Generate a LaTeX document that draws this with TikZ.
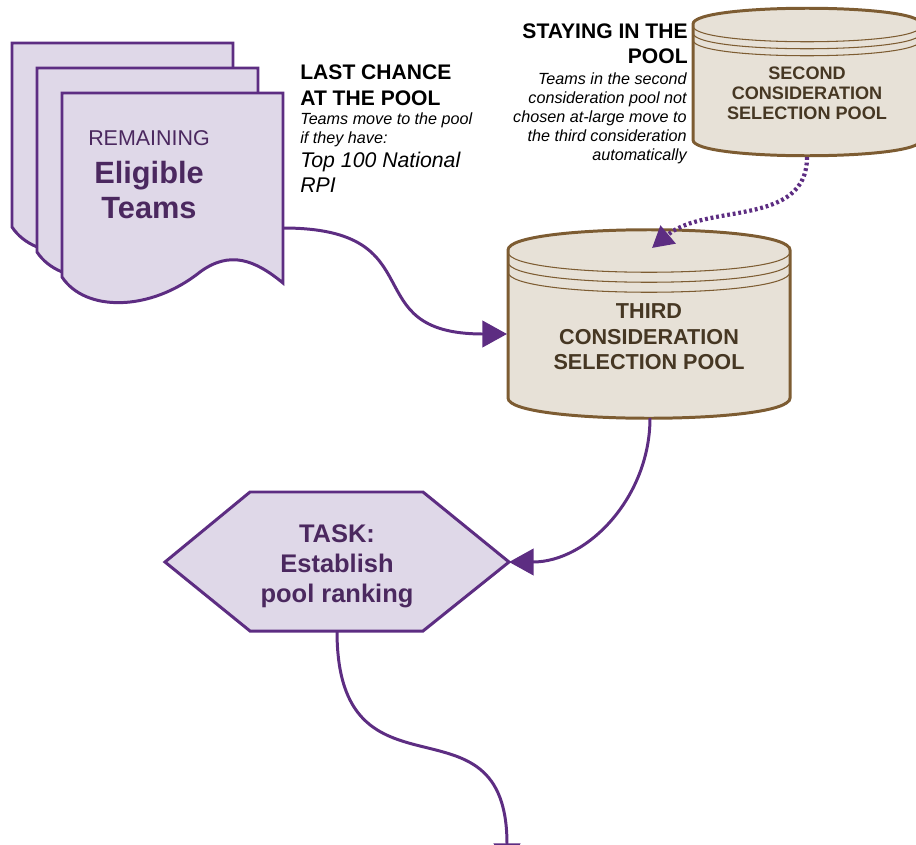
\documentclass[tikz,border=0pt]{standalone}
\usepackage{fontspec}
\setmainfont{Liberation Sans}
\usetikzlibrary{arrows.meta}
\definecolor{teamline}{RGB}{93,45,130}
\definecolor{teamfill}{RGB}{223,216,232}
\definecolor{teamtext}{RGB}{75,40,95}
\definecolor{poolline}{RGB}{125,92,50}
\definecolor{poolfill}{RGB}{231,225,215}
\definecolor{pooltext}{RGB}{70,55,35}
\tikzset{
  page/.style={draw=teamline, fill=teamfill, line width=1.7pt},
  can/.style={draw=poolline, fill=poolfill, line width=1.7pt},
  canring/.style={draw=poolline, line width=0.6pt},
  flow/.style={draw=teamline, line width=1.7pt, -{Triangle[length=14pt,width=15pt]}},
  carry/.style={draw=teamline, line width=2.4pt, dash pattern=on 1.6pt off 1.6pt, -{Triangle[length=12pt,width=13pt]}},
  cantxt/.style={align=center, text=pooltext, font=\bfseries, inner sep=0pt},
  note/.style={inner sep=0pt, text=black}
}
\begin{document}
\begin{tikzpicture}[x=0.02cm,y=0.02cm]
\useasboundingbox (0,0) rectangle (916,-845);

% remaining teams stack
\foreach \d in {50,25,0}
{
   \draw[page] (62-\d,-93+\d) -- (283-\d,-93+\d) -- (283-\d,-283+\d)
      .. controls (255-\d,-260+\d) and (230-\d,-250+\d) .. (200-\d,-272+\d)
      .. controls (150-\d,-312+\d) and (85-\d,-312+\d) .. (62-\d,-277+\d) -- cycle;
}
\node[inner sep=0pt, text=teamtext, font=\fontsize{12.2}{14}\selectfont] (remaining) at (149,-138) {REMAINING};
\node[inner sep=0pt, align=center, text=teamtext, font=\fontsize{17.5}{20}\selectfont\bfseries] (eligible) at (149,-190) {Eligible\\Teams};
\coordinate (stackout) at (283,-228);

% last chance text (base = last line)
\node[note, anchor=base west, align=left, font=\fontsize{12}{14.6}\selectfont\bfseries] (lastchance) at (300,-105) {LAST CHANCE\\AT THE POOL};
\node[note, anchor=base west, align=left, font=\fontsize{9.2}{10.8}\selectfont\itshape] (lastnote) at (300,-143) {Teams move to the pool\\if they have:};
\node[note, anchor=base west, align=left, font=\fontsize{12.1}{14.2}\selectfont\itshape] (lastrule) at (300,-192) {Top 100 National\\RPI};

% second consideration pool
\draw[can] (693,-24) -- (693,-140) .. controls (693,-161) and (921,-161) .. (921,-140)
   -- (921,-24) .. controls (921,-3) and (693,-3) .. (693,-24) -- cycle;
\foreach \o in {2,9,16}
   \draw[canring] (693,-24-\o) .. controls (693,-45-\o) and (921,-45-\o) .. (921,-24-\o);
\node[cantxt, font=\fontsize{10.3}{11.3}\selectfont\bfseries] (second) at (807,-93) {SECOND\\CONSIDERATION\\SELECTION POOL};
\coordinate (secondout) at (807,-157);

% staying text
\node[note, anchor=base east, align=right, font=\fontsize{12}{14.2}\selectfont\bfseries] (staying) at (688,-63) {STAYING IN THE\\POOL};
\node[note, anchor=base east, align=right, font=\fontsize{9.2}{10.8}\selectfont\itshape] (stayingnote) at (687,-160) {Teams in the second\\consideration pool not\\chosen at-large move to\\the third consideration\\automatically};

% third consideration pool
\draw[can] (508,-250) -- (508,-398) .. controls (508,-425) and (790,-425) .. (790,-398)
   -- (790,-250) .. controls (790,-223) and (508,-223) .. (508,-250) -- cycle;
\foreach \o in {2,12,22}
   \draw[canring] (508,-250-\o) .. controls (508,-277-\o) and (790,-277-\o) .. (790,-250-\o);
\node[cantxt, font=\fontsize{12.3}{14.5}\selectfont\bfseries] (third) at (649,-337) {THIRD\\CONSIDERATION\\SELECTION POOL};
\coordinate (thirdin) at (652,-248);
\coordinate (thirdleft) at (507,-334);
\coordinate (thirdout) at (650,-418);

% task hexagon
\draw[page] (165,-562) -- (250,-492) -- (423,-492) -- (509,-562) -- (423,-631) -- (250,-631) -- cycle;
\node[inner sep=0pt, align=center, text=teamtext, font=\fontsize{14.5}{17}\selectfont\bfseries] (task) at (337,-566) {TASK:\\Establish\\pool ranking};
\coordinate (taskright) at (509,-562);
\coordinate (taskout) at (337,-631);
\coordinate (next) at (507,-868);

\draw[carry] (secondout) to[out=-90, in=40] (thirdin);
\draw[flow] (stackout) to[out=0, in=180, looseness=1.6] (thirdleft);
\draw[flow] (thirdout) to[out=-90, in=0] (taskright);
\draw[flow] (taskout) to[out=-90, in=90, looseness=1.6] (next);

\end{tikzpicture}
\end{document}
